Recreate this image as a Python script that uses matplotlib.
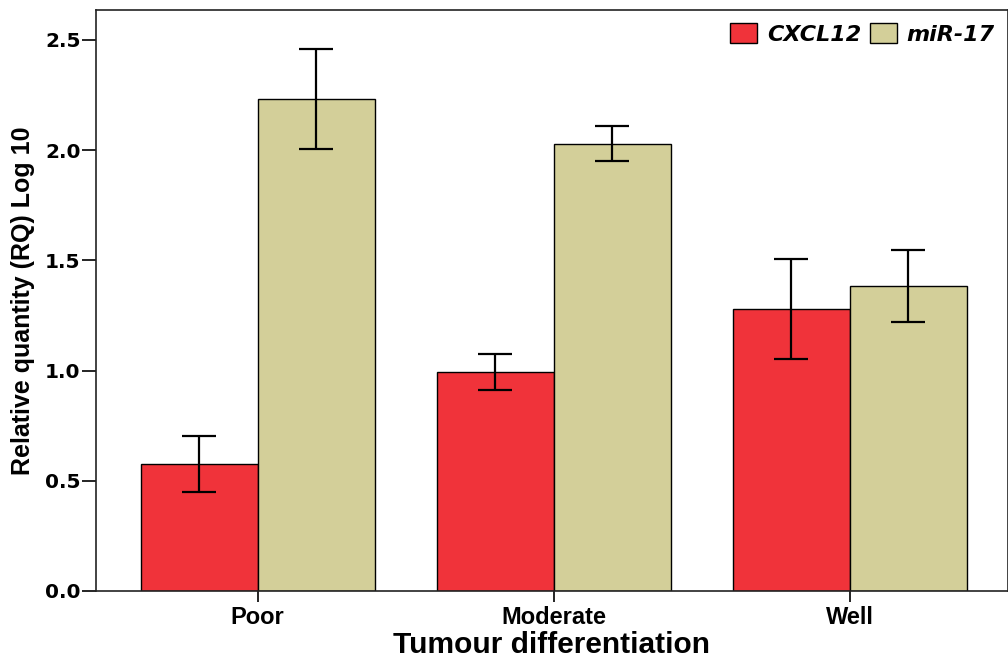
import numpy as np
import matplotlib
matplotlib.use("Agg")
import matplotlib.pyplot as plt
from matplotlib.patches import Patch

groups = ["Poor", "Moderate", "Well"]
series = ["CXCL12", "miR-17"]
cxcl12 = [0.575, 0.994, 1.279]
cxcl12_err = [0.128, 0.082, 0.227]
mir17 = [2.232, 2.029, 1.384]
mir17_err = [0.225, 0.080, 0.163]

red = "#F0333A"
tan = "#D3CF99"
sans = ["Liberation Sans", "DejaVu Sans"]

fig = plt.figure(figsize=(10.08, 6.59), dpi=100)
ax = fig.add_axes([0.0952, 0.1032, 0.9048, 0.8816])

x = np.arange(len(groups))
w = 0.395
ax.bar(x - w / 2, cxcl12, w, color=red, edgecolor="black", linewidth=1.0, zorder=2)
ax.bar(x + w / 2, mir17, w, color=tan, edgecolor="black", linewidth=1.0, zorder=2)
ax.errorbar(x - w / 2, cxcl12, yerr=cxcl12_err, fmt="none", ecolor="black",
            elinewidth=1.6, capsize=12, capthick=1.6, zorder=3)
ax.errorbar(x + w / 2, mir17, yerr=mir17_err, fmt="none", ecolor="black",
            elinewidth=1.6, capsize=12, capthick=1.6, zorder=3)

ax.set_xlim(-0.546, 2.535)
ax.set_ylim(0, 2.636)
ax.set_xticks(x)
ax.set_xticklabels(groups, fontfamily=sans, fontweight="bold", fontsize=17)
ax.set_yticks([0, 0.5, 1.0, 1.5, 2.0, 2.5])
ax.set_yticklabels(["0.0", "0.5", "1.0", "1.5", "2.0", "2.5"],
                   fontfamily="DejaVu Sans", fontweight="bold", fontsize=14.5)
ax.tick_params(axis="y", direction="out", length=10, width=1.2, pad=1)
ax.tick_params(axis="x", direction="out", length=8, width=1.2, pad=3)

for s in ax.spines.values():
    s.set_linewidth(1.2)
    s.set_color("#222222")

ax.set_xlabel("Tumour differentiation", fontfamily=sans,
              fontweight="bold", fontsize=21.5, labelpad=1)
ax.set_ylabel("Relative quantity (RQ) Log 10", fontfamily=sans,
              fontweight="bold", fontsize=18, labelpad=7)

handles = [Patch(facecolor=red, edgecolor="black", label=series[0]),
           Patch(facecolor=tan, edgecolor="black", label=series[1])]
leg = ax.legend(handles=handles, loc="upper right", ncol=2, frameon=False,
                prop={"family": "DejaVu Sans", "weight": "bold", "style": "italic", "size": 16},
                handlelength=1.2, handleheight=0.95, handletextpad=0.45, columnspacing=0.4,
                borderaxespad=0.2, bbox_to_anchor=(1.0, 1.0))

fig.savefig("out.png", dpi=100)
